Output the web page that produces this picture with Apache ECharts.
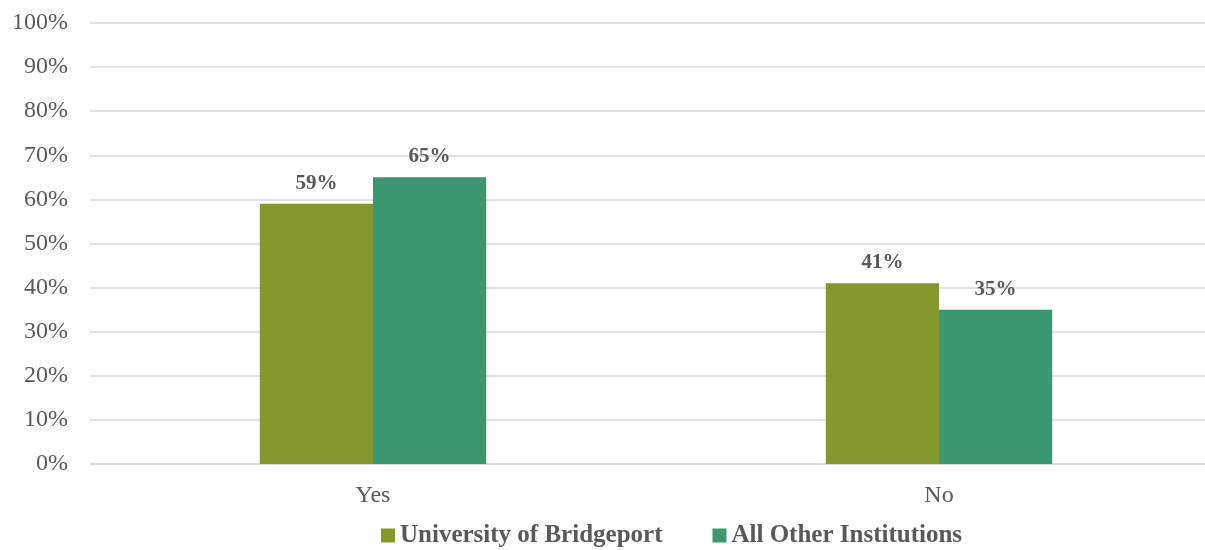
<!DOCTYPE html>
<html>
<head>
<meta charset="utf-8">
<script src="https://cdn.jsdelivr.net/npm/echarts@6/dist/echarts.min.js"></script>
<style>
  html, body { margin: 0; padding: 0; background: #fff; }
  #main { width: 1205px; height: 550px; }
</style>
</head>
<body>
<div id="main"></div>
<script>
// answers on x axis
var categories = ['Yes', 'No'];
// percent of respondents
var bridgeport = [59, 41];
var otherInst = [65, 35];
var seriesNames = ['University of Bridgeport', 'All Other Institutions'];

var fontFam = '"Liberation Serif", "DejaVu Serif", serif';
var textGray = '#595959';

var myChart = echarts.init(document.getElementById('main'));

function barSeries(name, data, color) {
  return {
    name: name,
    type: 'bar',
    data: data,
    barGap: '0%',
    barCategoryGap: '60%',
    itemStyle: { color: color },
    label: {
      show: true,
      position: 'top',
      distance: 10,
      formatter: '{c}%',
      fontFamily: fontFam,
      fontWeight: 'bold',
      fontSize: 21,
      color: textGray
    }
  };
}

var option = {
  animation: false,
  textStyle: { fontFamily: fontFam },
  // plot runs a bit past the right edge, like the original
  grid: { left: 90, width: 1132, top: 23, bottom: 86, outerBoundsMode: 'none' },
  legend: {
    data: seriesNames,
    bottom: -3,
    left: 376,
    itemWidth: 14,
    itemHeight: 14,
    itemGap: 50,
    icon: 'rect',
    textStyle: { fontFamily: fontFam, fontWeight: 'bold', fontSize: 25, color: textGray }
  },
  xAxis: {
    type: 'category',
    data: categories,
    axisLine: { lineStyle: { color: '#d9d9d9', width: 1.5 } },
    axisTick: { show: false },
    axisLabel: { margin: 20, fontFamily: fontFam, fontSize: 24, color: textGray }
  },
  yAxis: {
    type: 'value',
    min: 0,
    max: 100,
    interval: 10,
    axisLine: { show: false },
    axisTick: { show: false },
    splitLine: { lineStyle: { color: '#d9d9d9', width: 1.5 } },
    axisLabel: {
      formatter: '{value}%',
      margin: 22,
      fontFamily: fontFam,
      fontSize: 24,
      color: textGray
    }
  },
  series: [
    barSeries(seriesNames[0], bridgeport, '#84982d'),
    barSeries(seriesNames[1], otherInst, '#3c9670')
  ]
};
myChart.setOption(option);
window.onresize = myChart.resize;
</script>
</body>
</html>
